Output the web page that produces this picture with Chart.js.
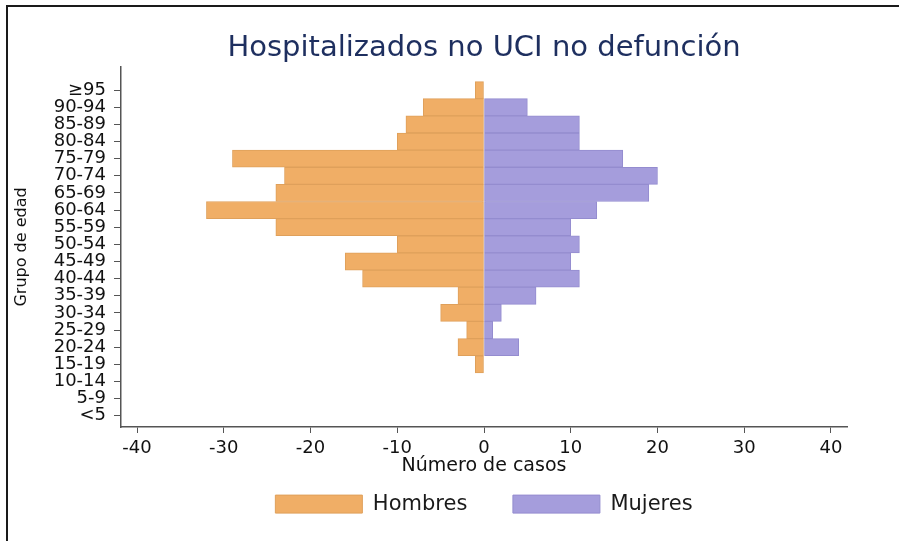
<!DOCTYPE html>
<html><head><meta charset="utf-8">
<script src="https://cdn.jsdelivr.net/npm/chart.js@4/dist/chart.umd.min.js"></script>
<style>
html,body{margin:0;padding:0;background:#fff;}
#wrap{position:relative;width:899px;height:541px;overflow:hidden;}
#c{position:absolute;left:0;top:0;}
#frame{position:absolute;left:6px;top:5px;right:-5px;bottom:-5px;border-left:2px solid #1a1a1a;border-top:2px solid #1a1a1a;pointer-events:none;}
</style></head><body>
<div id="wrap"><canvas id="c" width="899" height="541"></canvas><div id="frame"></div></div>
<script>
// Age groups, listed top to bottom as in the chart
const ageGroups = ['≥95','90-94','85-89','80-84','75-79','70-74','65-69','60-64','55-59','50-54',
                   '45-49','40-44','35-39','30-34','25-29','20-24','15-19','10-14','5-9','<5'];
// Men (plotted to the left, negative) and women (to the right)
const hombres = [-1,-7,-9,-10,-29,-23,-24,-32,-24,-10,-16,-14,-3,-5,-2,-3,-1,0,0,0];
const mujeres = [0,5,11,11,16,20,19,13,10,11,10,11,6,2,1,4,0,0,0,0];
const xTickValues = [-40,-30,-20,-10,0,10,20,30,40];
const seriesNames = ['Hombres','Mujeres'];
const chartTitle = 'Hospitalizados no UCI no defunción';
const xAxisTitle = 'Número de casos';
const yAxisTitle = 'Grupo de edad';

const n = ageGroups.length;
const toPoints = vals => vals.map((v, i) => ({x: v, y: n - 1 - i}));

Chart.defaults.font.family = "'DejaVu Sans', sans-serif";
Chart.defaults.color = '#111';

const legendLift = 9;
const legendLiftPlugin = {
  id: 'legendLift',
  afterLayout(chart) {
    const lg = chart.legend;
    if (lg) { lg.top -= legendLift; lg.bottom -= legendLift; }
  }
};

new Chart(document.getElementById('c'), {
  type: 'bar',
  data: {
    datasets: [
      {label: seriesNames[0], data: toPoints(hombres), backgroundColor: '#F0AE66', borderColor: '#DFA05B',
       borderWidth: 1, borderSkipped: false, barPercentage: 1, categoryPercentage: 1},
      {label: seriesNames[1], data: toPoints(mujeres), backgroundColor: '#A59DDC', borderColor: '#948CCF',
       borderWidth: 1, borderSkipped: false, barPercentage: 1, categoryPercentage: 1}
    ]
  },
  plugins: [legendLiftPlugin],
  options: {
    indexAxis: 'y',
    responsive: false,
    animation: false,
    devicePixelRatio: 1,
    layout: {padding: {top: 0, left: 0, right: 52, bottom: 7.4}},
    plugins: {
      title: {display: true, text: chartTitle, fullSize: false, color: '#1e2f5f',
              font: {size: 29, weight: 'normal'}, padding: {top: 31.1, bottom: 1.1}},
      legend: {position: 'bottom', fullSize: false,
               labels: {boxWidth: 87, boxHeight: 18, padding: 45.6, color: '#1a1a1a', font: {size: 21}}},
      tooltip: {enabled: false}
    },
    scales: {
      x: {
        type: 'linear', min: -41.85, max: 41.85, stacked: true, offset: false,
        afterBuildTicks: s => { s.ticks = xTickValues.map(v => ({value: v})); },
        afterFit: s => { s.height = 30; },
        grid: {drawOnChartArea: false, drawTicks: true, tickLength: 6, color: '#555', offset: false},
        border: {display: true, color: '#555', width: 1.5},
        ticks: {padding: 5, color: '#111', font: {size: 18}, maxRotation: 0, autoSkip: false,
                callback: v => String(v)},
        title: {display: true, text: xAxisTitle, color: '#111', font: {size: 19},
                padding: {top: 0, bottom: -20.4}}
      },
      y: {
        type: 'linear', min: -0.66, max: 20.35, stacked: true, offset: false,
        afterBuildTicks: s => { s.ticks = ageGroups.map((g, i) => ({value: i})); },
        afterFit: s => { s.width = 121; },
        grid: {drawOnChartArea: false, drawTicks: true, tickLength: 7, color: '#555', offset: false},
        border: {display: true, color: '#555', width: 1.5},
        ticks: {padding: 8, color: '#111', font: {size: 18, lineHeight: 1}, autoSkip: false,
                callback: v => ageGroups[n - 1 - v]},
        title: {display: true, text: yAxisTitle, color: '#111', font: {size: 16},
                padding: {top: 12.4, bottom: 0}}
      }
    }
  }
});
</script>
</body></html>
